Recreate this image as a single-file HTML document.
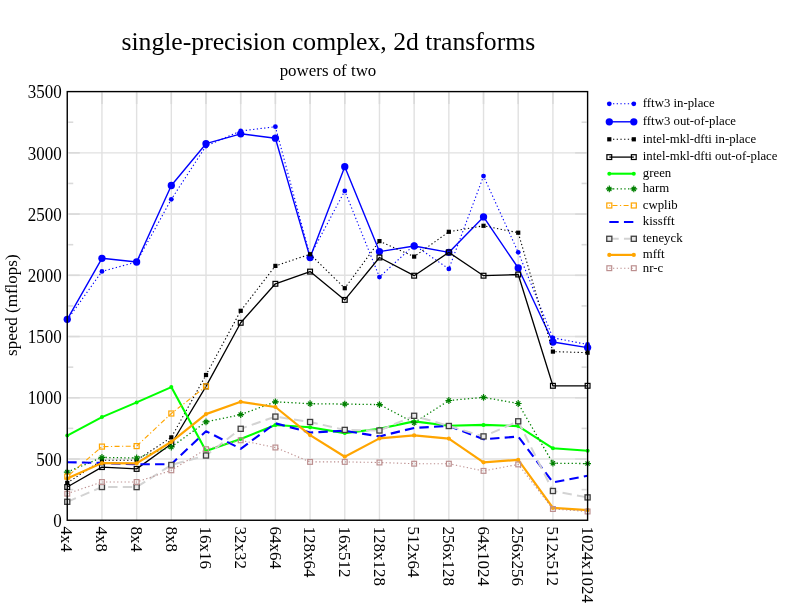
<!DOCTYPE html>
<html><head><meta charset="utf-8"><style>
html,body{margin:0;padding:0;background:#fff;width:792px;height:612px;overflow:hidden}
svg{display:block;will-change:transform;font-family:"Liberation Serif", serif}
</style></head><body><svg width="792" height="612" viewBox="0 0 792 612" fill="#000"><g stroke="#e1e1e1" stroke-width="1.4"><line x1="67.25" y1="459.01" x2="587.60" y2="459.01"/><line x1="67.25" y1="397.78" x2="587.60" y2="397.78"/><line x1="67.25" y1="336.54" x2="587.60" y2="336.54"/><line x1="67.25" y1="275.31" x2="587.60" y2="275.31"/><line x1="67.25" y1="214.07" x2="587.60" y2="214.07"/><line x1="67.25" y1="152.84" x2="587.60" y2="152.84"/><line x1="101.94" y1="91.60" x2="101.94" y2="520.25"/><line x1="136.63" y1="91.60" x2="136.63" y2="520.25"/><line x1="171.32" y1="91.60" x2="171.32" y2="520.25"/><line x1="206.01" y1="91.60" x2="206.01" y2="520.25"/><line x1="240.70" y1="91.60" x2="240.70" y2="520.25"/><line x1="275.39" y1="91.60" x2="275.39" y2="520.25"/><line x1="310.08" y1="91.60" x2="310.08" y2="520.25"/><line x1="344.77" y1="91.60" x2="344.77" y2="520.25"/><line x1="379.46" y1="91.60" x2="379.46" y2="520.25"/><line x1="414.15" y1="91.60" x2="414.15" y2="520.25"/><line x1="448.84" y1="91.60" x2="448.84" y2="520.25"/><line x1="483.53" y1="91.60" x2="483.53" y2="520.25"/><line x1="518.22" y1="91.60" x2="518.22" y2="520.25"/><line x1="552.91" y1="91.60" x2="552.91" y2="520.25"/></g><g stroke="#dadada" stroke-width="1.6"><line x1="68.25" y1="489.63" x2="73.25" y2="489.63"/><line x1="581.60" y1="489.63" x2="586.60" y2="489.63"/><line x1="68.25" y1="428.40" x2="73.25" y2="428.40"/><line x1="581.60" y1="428.40" x2="586.60" y2="428.40"/><line x1="68.25" y1="367.16" x2="73.25" y2="367.16"/><line x1="581.60" y1="367.16" x2="586.60" y2="367.16"/><line x1="68.25" y1="305.93" x2="73.25" y2="305.93"/><line x1="581.60" y1="305.93" x2="586.60" y2="305.93"/><line x1="68.25" y1="244.69" x2="73.25" y2="244.69"/><line x1="581.60" y1="244.69" x2="586.60" y2="244.69"/><line x1="68.25" y1="183.45" x2="73.25" y2="183.45"/><line x1="581.60" y1="183.45" x2="586.60" y2="183.45"/><line x1="68.25" y1="122.22" x2="73.25" y2="122.22"/><line x1="581.60" y1="122.22" x2="586.60" y2="122.22"/><line x1="68.85" y1="459.01" x2="79.75" y2="459.01"/><line x1="575.10" y1="459.01" x2="586.00" y2="459.01"/><line x1="68.85" y1="397.78" x2="79.75" y2="397.78"/><line x1="575.10" y1="397.78" x2="586.00" y2="397.78"/><line x1="68.85" y1="336.54" x2="79.75" y2="336.54"/><line x1="575.10" y1="336.54" x2="586.00" y2="336.54"/><line x1="68.85" y1="275.31" x2="79.75" y2="275.31"/><line x1="575.10" y1="275.31" x2="586.00" y2="275.31"/><line x1="68.85" y1="214.07" x2="79.75" y2="214.07"/><line x1="575.10" y1="214.07" x2="586.00" y2="214.07"/><line x1="68.85" y1="152.84" x2="79.75" y2="152.84"/><line x1="575.10" y1="152.84" x2="586.00" y2="152.84"/><line x1="101.94" y1="92.60" x2="101.94" y2="104.10"/><line x1="136.63" y1="92.60" x2="136.63" y2="104.10"/><line x1="171.32" y1="92.60" x2="171.32" y2="104.10"/><line x1="206.01" y1="92.60" x2="206.01" y2="104.10"/><line x1="240.70" y1="92.60" x2="240.70" y2="104.10"/><line x1="275.39" y1="92.60" x2="275.39" y2="104.10"/><line x1="310.08" y1="92.60" x2="310.08" y2="104.10"/><line x1="344.77" y1="92.60" x2="344.77" y2="104.10"/><line x1="379.46" y1="92.60" x2="379.46" y2="104.10"/><line x1="414.15" y1="92.60" x2="414.15" y2="104.10"/><line x1="448.84" y1="92.60" x2="448.84" y2="104.10"/><line x1="483.53" y1="92.60" x2="483.53" y2="104.10"/><line x1="518.22" y1="92.60" x2="518.22" y2="104.10"/><line x1="552.91" y1="92.60" x2="552.91" y2="104.10"/></g><polyline points="67.25,320.00 101.94,271.40 136.63,262.00 171.32,199.30 206.01,146.00 240.70,131.00 275.39,126.70 310.08,256.00 344.77,190.90 379.46,277.10 414.15,245.00 448.84,268.90 483.53,176.10 518.22,252.30 552.91,337.80 587.60,344.50" fill="none" stroke="#0000ff" stroke-width="1.10" stroke-dasharray="1.3 2.4" stroke-linejoin="round"/><circle cx="67.25" cy="320.00" r="2.40" fill="#0000ff"/><circle cx="101.94" cy="271.40" r="2.40" fill="#0000ff"/><circle cx="136.63" cy="262.00" r="2.40" fill="#0000ff"/><circle cx="171.32" cy="199.30" r="2.40" fill="#0000ff"/><circle cx="206.01" cy="146.00" r="2.40" fill="#0000ff"/><circle cx="240.70" cy="131.00" r="2.40" fill="#0000ff"/><circle cx="275.39" cy="126.70" r="2.40" fill="#0000ff"/><circle cx="310.08" cy="256.00" r="2.40" fill="#0000ff"/><circle cx="344.77" cy="190.90" r="2.40" fill="#0000ff"/><circle cx="379.46" cy="277.10" r="2.40" fill="#0000ff"/><circle cx="414.15" cy="245.00" r="2.40" fill="#0000ff"/><circle cx="448.84" cy="268.90" r="2.40" fill="#0000ff"/><circle cx="483.53" cy="176.10" r="2.40" fill="#0000ff"/><circle cx="518.22" cy="252.30" r="2.40" fill="#0000ff"/><circle cx="552.91" cy="337.80" r="2.40" fill="#0000ff"/><circle cx="587.60" cy="344.50" r="2.40" fill="#0000ff"/><polyline points="67.25,319.30 101.94,258.30 136.63,262.00 171.32,185.50 206.01,143.70 240.70,133.80 275.39,138.20 310.08,257.50 344.77,166.70 379.46,251.60 414.15,246.00 448.84,252.40 483.53,216.90 518.22,268.00 552.91,342.00 587.60,347.60" fill="none" stroke="#0000ff" stroke-width="1.40" stroke-linejoin="round"/><circle cx="67.25" cy="319.30" r="3.65" fill="#0000ff"/><circle cx="101.94" cy="258.30" r="3.65" fill="#0000ff"/><circle cx="136.63" cy="262.00" r="3.65" fill="#0000ff"/><circle cx="171.32" cy="185.50" r="3.65" fill="#0000ff"/><circle cx="206.01" cy="143.70" r="3.65" fill="#0000ff"/><circle cx="240.70" cy="133.80" r="3.65" fill="#0000ff"/><circle cx="275.39" cy="138.20" r="3.65" fill="#0000ff"/><circle cx="310.08" cy="257.50" r="3.65" fill="#0000ff"/><circle cx="344.77" cy="166.70" r="3.65" fill="#0000ff"/><circle cx="379.46" cy="251.60" r="3.65" fill="#0000ff"/><circle cx="414.15" cy="246.00" r="3.65" fill="#0000ff"/><circle cx="448.84" cy="252.40" r="3.65" fill="#0000ff"/><circle cx="483.53" cy="216.90" r="3.65" fill="#0000ff"/><circle cx="518.22" cy="268.00" r="3.65" fill="#0000ff"/><circle cx="552.91" cy="342.00" r="3.65" fill="#0000ff"/><circle cx="587.60" cy="347.60" r="3.65" fill="#0000ff"/><polyline points="67.25,482.90 101.94,460.30 136.63,460.30 171.32,437.40 206.01,375.00 240.70,310.80 275.39,265.90 310.08,254.20 344.77,288.20 379.46,241.10 414.15,256.60 448.84,231.80 483.53,225.80 518.22,232.70 552.91,351.60 587.60,352.70" fill="none" stroke="#000" stroke-width="1.10" stroke-dasharray="1.3 2.4" stroke-linejoin="round"/><rect x="65.15" y="480.80" width="4.20" height="4.20" fill="#000"/><rect x="99.84" y="458.20" width="4.20" height="4.20" fill="#000"/><rect x="134.53" y="458.20" width="4.20" height="4.20" fill="#000"/><rect x="169.22" y="435.30" width="4.20" height="4.20" fill="#000"/><rect x="203.91" y="372.90" width="4.20" height="4.20" fill="#000"/><rect x="238.60" y="308.70" width="4.20" height="4.20" fill="#000"/><rect x="273.29" y="263.80" width="4.20" height="4.20" fill="#000"/><rect x="307.98" y="252.10" width="4.20" height="4.20" fill="#000"/><rect x="342.67" y="286.10" width="4.20" height="4.20" fill="#000"/><rect x="377.36" y="239.00" width="4.20" height="4.20" fill="#000"/><rect x="412.05" y="254.50" width="4.20" height="4.20" fill="#000"/><rect x="446.74" y="229.70" width="4.20" height="4.20" fill="#000"/><rect x="481.43" y="223.70" width="4.20" height="4.20" fill="#000"/><rect x="516.12" y="230.60" width="4.20" height="4.20" fill="#000"/><rect x="550.81" y="349.50" width="4.20" height="4.20" fill="#000"/><rect x="585.50" y="350.60" width="4.20" height="4.20" fill="#000"/><polyline points="67.25,487.00 101.94,467.10 136.63,468.90 171.32,444.00 206.01,386.40 240.70,322.80 275.39,283.80 310.08,271.60 344.77,299.90 379.46,257.50 414.15,275.70 448.84,252.40 483.53,275.70 518.22,274.50 552.91,385.80 587.60,385.80" fill="none" stroke="#000" stroke-width="1.30" stroke-linejoin="round"/><rect x="64.85" y="484.60" width="4.80" height="4.80" fill="none" stroke="#000" stroke-width="1.20"/><rect x="99.54" y="464.70" width="4.80" height="4.80" fill="none" stroke="#000" stroke-width="1.20"/><rect x="134.23" y="466.50" width="4.80" height="4.80" fill="none" stroke="#000" stroke-width="1.20"/><rect x="168.92" y="441.60" width="4.80" height="4.80" fill="none" stroke="#000" stroke-width="1.20"/><rect x="203.61" y="384.00" width="4.80" height="4.80" fill="none" stroke="#000" stroke-width="1.20"/><rect x="238.30" y="320.40" width="4.80" height="4.80" fill="none" stroke="#000" stroke-width="1.20"/><rect x="272.99" y="281.40" width="4.80" height="4.80" fill="none" stroke="#000" stroke-width="1.20"/><rect x="307.68" y="269.20" width="4.80" height="4.80" fill="none" stroke="#000" stroke-width="1.20"/><rect x="342.37" y="297.50" width="4.80" height="4.80" fill="none" stroke="#000" stroke-width="1.20"/><rect x="377.06" y="255.10" width="4.80" height="4.80" fill="none" stroke="#000" stroke-width="1.20"/><rect x="411.75" y="273.30" width="4.80" height="4.80" fill="none" stroke="#000" stroke-width="1.20"/><rect x="446.44" y="250.00" width="4.80" height="4.80" fill="none" stroke="#000" stroke-width="1.20"/><rect x="481.13" y="273.30" width="4.80" height="4.80" fill="none" stroke="#000" stroke-width="1.20"/><rect x="515.82" y="272.10" width="4.80" height="4.80" fill="none" stroke="#000" stroke-width="1.20"/><rect x="550.51" y="383.40" width="4.80" height="4.80" fill="none" stroke="#000" stroke-width="1.20"/><rect x="585.20" y="383.40" width="4.80" height="4.80" fill="none" stroke="#000" stroke-width="1.20"/><polyline points="67.25,435.60 101.94,417.10 136.63,402.40 171.32,387.10 206.01,451.00 240.70,439.00 275.39,425.00 310.08,427.30 344.77,433.10 379.46,428.80 414.15,421.40 448.84,425.80 483.53,424.90 518.22,426.10 552.91,448.30 587.60,450.80" fill="none" stroke="#00ff00" stroke-width="2.10" stroke-linejoin="round"/><circle cx="67.25" cy="435.60" r="2.00" fill="#00ff00"/><circle cx="101.94" cy="417.10" r="2.00" fill="#00ff00"/><circle cx="136.63" cy="402.40" r="2.00" fill="#00ff00"/><circle cx="171.32" cy="387.10" r="2.00" fill="#00ff00"/><circle cx="206.01" cy="451.00" r="2.00" fill="#00ff00"/><circle cx="240.70" cy="439.00" r="2.00" fill="#00ff00"/><circle cx="275.39" cy="425.00" r="2.00" fill="#00ff00"/><circle cx="310.08" cy="427.30" r="2.00" fill="#00ff00"/><circle cx="344.77" cy="433.10" r="2.00" fill="#00ff00"/><circle cx="379.46" cy="428.80" r="2.00" fill="#00ff00"/><circle cx="414.15" cy="421.40" r="2.00" fill="#00ff00"/><circle cx="448.84" cy="425.80" r="2.00" fill="#00ff00"/><circle cx="483.53" cy="424.90" r="2.00" fill="#00ff00"/><circle cx="518.22" cy="426.10" r="2.00" fill="#00ff00"/><circle cx="552.91" cy="448.30" r="2.00" fill="#00ff00"/><circle cx="587.60" cy="450.80" r="2.00" fill="#00ff00"/><polyline points="67.25,472.10 101.94,457.40 136.63,458.00 171.32,447.00 206.01,421.90 240.70,414.60 275.39,401.80 310.08,403.70 344.77,404.10 379.46,404.60 414.15,422.70 448.84,400.50 483.53,397.40 518.22,403.50 552.91,463.20 587.60,463.60" fill="none" stroke="#008000" stroke-width="1.30" stroke-dasharray="1.3 2.45" stroke-linejoin="round"/><path d="M67.25 468.70v6.80M63.85 472.10h6.80M65.15 470.00l4.20 4.20M65.15 474.20l4.20 -4.20" stroke="#008000" stroke-width="1.15" fill="none"/><path d="M101.94 454.00v6.80M98.54 457.40h6.80M99.84 455.30l4.20 4.20M99.84 459.50l4.20 -4.20" stroke="#008000" stroke-width="1.15" fill="none"/><path d="M136.63 454.60v6.80M133.23 458.00h6.80M134.53 455.90l4.20 4.20M134.53 460.10l4.20 -4.20" stroke="#008000" stroke-width="1.15" fill="none"/><path d="M171.32 443.60v6.80M167.92 447.00h6.80M169.22 444.90l4.20 4.20M169.22 449.10l4.20 -4.20" stroke="#008000" stroke-width="1.15" fill="none"/><path d="M206.01 418.50v6.80M202.61 421.90h6.80M203.91 419.80l4.20 4.20M203.91 424.00l4.20 -4.20" stroke="#008000" stroke-width="1.15" fill="none"/><path d="M240.70 411.20v6.80M237.30 414.60h6.80M238.60 412.50l4.20 4.20M238.60 416.70l4.20 -4.20" stroke="#008000" stroke-width="1.15" fill="none"/><path d="M275.39 398.40v6.80M271.99 401.80h6.80M273.29 399.70l4.20 4.20M273.29 403.90l4.20 -4.20" stroke="#008000" stroke-width="1.15" fill="none"/><path d="M310.08 400.30v6.80M306.68 403.70h6.80M307.98 401.60l4.20 4.20M307.98 405.80l4.20 -4.20" stroke="#008000" stroke-width="1.15" fill="none"/><path d="M344.77 400.70v6.80M341.37 404.10h6.80M342.67 402.00l4.20 4.20M342.67 406.20l4.20 -4.20" stroke="#008000" stroke-width="1.15" fill="none"/><path d="M379.46 401.20v6.80M376.06 404.60h6.80M377.36 402.50l4.20 4.20M377.36 406.70l4.20 -4.20" stroke="#008000" stroke-width="1.15" fill="none"/><path d="M414.15 419.30v6.80M410.75 422.70h6.80M412.05 420.60l4.20 4.20M412.05 424.80l4.20 -4.20" stroke="#008000" stroke-width="1.15" fill="none"/><path d="M448.84 397.10v6.80M445.44 400.50h6.80M446.74 398.40l4.20 4.20M446.74 402.60l4.20 -4.20" stroke="#008000" stroke-width="1.15" fill="none"/><path d="M483.53 394.00v6.80M480.13 397.40h6.80M481.43 395.30l4.20 4.20M481.43 399.50l4.20 -4.20" stroke="#008000" stroke-width="1.15" fill="none"/><path d="M518.22 400.10v6.80M514.82 403.50h6.80M516.12 401.40l4.20 4.20M516.12 405.60l4.20 -4.20" stroke="#008000" stroke-width="1.15" fill="none"/><path d="M552.91 459.80v6.80M549.51 463.20h6.80M550.81 461.10l4.20 4.20M550.81 465.30l4.20 -4.20" stroke="#008000" stroke-width="1.15" fill="none"/><path d="M587.60 460.20v6.80M584.20 463.60h6.80M585.50 461.50l4.20 4.20M585.50 465.70l4.20 -4.20" stroke="#008000" stroke-width="1.15" fill="none"/><polyline points="67.25,476.60 101.94,446.60 136.63,446.10 171.32,413.50 206.01,386.40" fill="none" stroke="#ffa500" stroke-width="1.10" stroke-dasharray="5 2.45 1.2 2.45" stroke-dashoffset="8.1" stroke-linejoin="round"/><rect x="64.75" y="474.10" width="5.00" height="5.00" fill="none" stroke="#ffa500" stroke-width="1.20"/><rect x="99.44" y="444.10" width="5.00" height="5.00" fill="none" stroke="#ffa500" stroke-width="1.20"/><rect x="134.13" y="443.60" width="5.00" height="5.00" fill="none" stroke="#ffa500" stroke-width="1.20"/><rect x="168.82" y="411.00" width="5.00" height="5.00" fill="none" stroke="#ffa500" stroke-width="1.20"/><rect x="203.51" y="383.90" width="5.00" height="5.00" fill="none" stroke="#ffa500" stroke-width="1.20"/><polyline points="67.25,462.20 101.94,463.00 136.63,464.30 171.32,464.20 206.01,431.20 240.70,448.80 275.39,423.30 310.08,432.50 344.77,430.80 379.46,436.40 414.15,427.90 448.84,426.00 483.53,439.20 518.22,436.60 552.91,482.40 587.60,475.80" fill="none" stroke="#0000ff" stroke-width="2.10" stroke-dasharray="9.4 5.24" stroke-linejoin="round"/><polyline points="67.25,501.80 101.94,487.00 136.63,487.10 171.32,465.00 206.01,455.50 240.70,428.80 275.39,416.60 310.08,422.00 344.77,429.90 379.46,430.50 414.15,415.80 448.84,426.00 483.53,436.40 518.22,421.30 552.91,491.00 587.60,497.40" fill="none" stroke="#d3d3d3" stroke-width="2.00" stroke-dasharray="9.4 5.24" stroke-linejoin="round"/><rect x="64.70" y="499.25" width="5.10" height="5.10" fill="#e8e8e8" stroke="#404040" stroke-width="1.30"/><rect x="99.39" y="484.45" width="5.10" height="5.10" fill="#e8e8e8" stroke="#404040" stroke-width="1.30"/><rect x="134.08" y="484.55" width="5.10" height="5.10" fill="#e8e8e8" stroke="#404040" stroke-width="1.30"/><rect x="168.77" y="462.45" width="5.10" height="5.10" fill="#e8e8e8" stroke="#404040" stroke-width="1.30"/><rect x="203.46" y="452.95" width="5.10" height="5.10" fill="#e8e8e8" stroke="#404040" stroke-width="1.30"/><rect x="238.15" y="426.25" width="5.10" height="5.10" fill="#e8e8e8" stroke="#404040" stroke-width="1.30"/><rect x="272.84" y="414.05" width="5.10" height="5.10" fill="#e8e8e8" stroke="#404040" stroke-width="1.30"/><rect x="307.53" y="419.45" width="5.10" height="5.10" fill="#e8e8e8" stroke="#404040" stroke-width="1.30"/><rect x="342.22" y="427.35" width="5.10" height="5.10" fill="#e8e8e8" stroke="#404040" stroke-width="1.30"/><rect x="376.91" y="427.95" width="5.10" height="5.10" fill="#e8e8e8" stroke="#404040" stroke-width="1.30"/><rect x="411.60" y="413.25" width="5.10" height="5.10" fill="#e8e8e8" stroke="#404040" stroke-width="1.30"/><rect x="446.29" y="423.45" width="5.10" height="5.10" fill="#e8e8e8" stroke="#404040" stroke-width="1.30"/><rect x="480.98" y="433.85" width="5.10" height="5.10" fill="#e8e8e8" stroke="#404040" stroke-width="1.30"/><rect x="515.67" y="418.75" width="5.10" height="5.10" fill="#e8e8e8" stroke="#404040" stroke-width="1.30"/><rect x="550.36" y="488.45" width="5.10" height="5.10" fill="#e8e8e8" stroke="#404040" stroke-width="1.30"/><rect x="585.05" y="494.85" width="5.10" height="5.10" fill="#e8e8e8" stroke="#404040" stroke-width="1.30"/><polyline points="67.25,478.40 101.94,463.10 136.63,463.40 171.32,441.80 206.01,414.10 240.70,401.80 275.39,407.00 310.08,435.10 344.77,456.70 379.46,438.40 414.15,435.40 448.84,438.60 483.53,462.30 518.22,459.90 552.91,507.80 587.60,510.10" fill="none" stroke="#ffa500" stroke-width="2.20" stroke-linejoin="round"/><circle cx="67.25" cy="478.40" r="2.10" fill="#ffa500"/><circle cx="101.94" cy="463.10" r="2.10" fill="#ffa500"/><circle cx="136.63" cy="463.40" r="2.10" fill="#ffa500"/><circle cx="171.32" cy="441.80" r="2.10" fill="#ffa500"/><circle cx="206.01" cy="414.10" r="2.10" fill="#ffa500"/><circle cx="240.70" cy="401.80" r="2.10" fill="#ffa500"/><circle cx="275.39" cy="407.00" r="2.10" fill="#ffa500"/><circle cx="310.08" cy="435.10" r="2.10" fill="#ffa500"/><circle cx="344.77" cy="456.70" r="2.10" fill="#ffa500"/><circle cx="379.46" cy="438.40" r="2.10" fill="#ffa500"/><circle cx="414.15" cy="435.40" r="2.10" fill="#ffa500"/><circle cx="448.84" cy="438.60" r="2.10" fill="#ffa500"/><circle cx="483.53" cy="462.30" r="2.10" fill="#ffa500"/><circle cx="518.22" cy="459.90" r="2.10" fill="#ffa500"/><circle cx="552.91" cy="507.80" r="2.10" fill="#ffa500"/><circle cx="587.60" cy="510.10" r="2.10" fill="#ffa500"/><polyline points="67.25,493.70 101.94,482.00 136.63,482.00 171.32,470.30 206.01,449.20 240.70,440.30 275.39,447.50 310.08,461.90 344.77,461.90 379.46,462.50 414.15,463.70 448.84,463.70 483.53,470.90 518.22,464.40 552.91,509.00 587.60,511.50" fill="none" stroke="#bc8f8f" stroke-width="1.10" stroke-dasharray="1.3 2.4" stroke-linejoin="round"/><rect x="64.85" y="491.30" width="4.80" height="4.80" fill="none" stroke="#bc8f8f" stroke-width="1.20"/><rect x="99.54" y="479.60" width="4.80" height="4.80" fill="none" stroke="#bc8f8f" stroke-width="1.20"/><rect x="134.23" y="479.60" width="4.80" height="4.80" fill="none" stroke="#bc8f8f" stroke-width="1.20"/><rect x="168.92" y="467.90" width="4.80" height="4.80" fill="none" stroke="#bc8f8f" stroke-width="1.20"/><rect x="203.61" y="446.80" width="4.80" height="4.80" fill="none" stroke="#bc8f8f" stroke-width="1.20"/><rect x="238.30" y="437.90" width="4.80" height="4.80" fill="none" stroke="#bc8f8f" stroke-width="1.20"/><rect x="272.99" y="445.10" width="4.80" height="4.80" fill="none" stroke="#bc8f8f" stroke-width="1.20"/><rect x="307.68" y="459.50" width="4.80" height="4.80" fill="none" stroke="#bc8f8f" stroke-width="1.20"/><rect x="342.37" y="459.50" width="4.80" height="4.80" fill="none" stroke="#bc8f8f" stroke-width="1.20"/><rect x="377.06" y="460.10" width="4.80" height="4.80" fill="none" stroke="#bc8f8f" stroke-width="1.20"/><rect x="411.75" y="461.30" width="4.80" height="4.80" fill="none" stroke="#bc8f8f" stroke-width="1.20"/><rect x="446.44" y="461.30" width="4.80" height="4.80" fill="none" stroke="#bc8f8f" stroke-width="1.20"/><rect x="481.13" y="468.50" width="4.80" height="4.80" fill="none" stroke="#bc8f8f" stroke-width="1.20"/><rect x="515.82" y="462.00" width="4.80" height="4.80" fill="none" stroke="#bc8f8f" stroke-width="1.20"/><rect x="550.51" y="506.60" width="4.80" height="4.80" fill="none" stroke="#bc8f8f" stroke-width="1.20"/><rect x="585.20" y="509.10" width="4.80" height="4.80" fill="none" stroke="#bc8f8f" stroke-width="1.20"/><rect x="67.25" y="91.60" width="520.35" height="428.65" fill="none" stroke="#000" stroke-width="1.4"/><text transform="translate(61.8,526.95) scale(1,1.05)" text-anchor="end" font-size="17">0</text><text transform="translate(61.8,465.71) scale(1,1.05)" text-anchor="end" font-size="17">500</text><text transform="translate(61.8,404.48) scale(1,1.05)" text-anchor="end" font-size="17">1000</text><text transform="translate(61.8,343.24) scale(1,1.05)" text-anchor="end" font-size="17">1500</text><text transform="translate(61.8,282.01) scale(1,1.05)" text-anchor="end" font-size="17">2000</text><text transform="translate(61.8,220.77) scale(1,1.05)" text-anchor="end" font-size="17">2500</text><text transform="translate(61.8,159.54) scale(1,1.05)" text-anchor="end" font-size="17">3000</text><text transform="translate(61.8,98.30) scale(1,1.05)" text-anchor="end" font-size="17">3500</text><text transform="translate(61.45,526.6) rotate(90) scale(1,1.02)" font-size="17">4x4</text><text transform="translate(96.14,526.6) rotate(90) scale(1,1.02)" font-size="17">4x8</text><text transform="translate(130.83,526.6) rotate(90) scale(1,1.02)" font-size="17">8x4</text><text transform="translate(165.52,526.6) rotate(90) scale(1,1.02)" font-size="17">8x8</text><text transform="translate(200.21,526.6) rotate(90) scale(1,1.02)" font-size="17">16x16</text><text transform="translate(234.90,526.6) rotate(90) scale(1,1.02)" font-size="17">32x32</text><text transform="translate(269.59,526.6) rotate(90) scale(1,1.02)" font-size="17">64x64</text><text transform="translate(304.28,526.6) rotate(90) scale(1,1.02)" font-size="17">128x64</text><text transform="translate(338.97,526.6) rotate(90) scale(1,1.02)" font-size="17">16x512</text><text transform="translate(373.66,526.6) rotate(90) scale(1,1.02)" font-size="17">128x128</text><text transform="translate(408.35,526.6) rotate(90) scale(1,1.02)" font-size="17">512x64</text><text transform="translate(443.04,526.6) rotate(90) scale(1,1.02)" font-size="17">256x128</text><text transform="translate(477.73,526.6) rotate(90) scale(1,1.02)" font-size="17">64x1024</text><text transform="translate(512.42,526.6) rotate(90) scale(1,1.02)" font-size="17">256x256</text><text transform="translate(547.11,526.6) rotate(90) scale(1,1.02)" font-size="17">512x512</text><text transform="translate(581.80,526.6) rotate(90) scale(1,1.02)" font-size="17">1024x1024</text><text x="328.3" y="49.7" text-anchor="middle" font-size="25.7">single-precision complex, 2d transforms</text><text x="328" y="75.5" text-anchor="middle" font-size="16.9">powers of two</text><text transform="translate(17.2,305.2) rotate(-90)" text-anchor="middle" font-size="17">speed (mflops)</text><line x1="609.30" y1="103.80" x2="633.80" y2="103.80" stroke="#0000ff" stroke-width="1.10" stroke-dasharray="1.3 2.4"/><circle cx="609.30" cy="103.80" r="2.40" fill="#0000ff"/><circle cx="633.80" cy="103.80" r="2.40" fill="#0000ff"/><text x="642.8" y="107.10" font-size="12.8">fftw3 in-place</text><line x1="609.30" y1="121.80" x2="633.80" y2="121.80" stroke="#0000ff" stroke-width="1.40"/><circle cx="609.30" cy="121.80" r="3.65" fill="#0000ff"/><circle cx="633.80" cy="121.80" r="3.65" fill="#0000ff"/><text x="642.8" y="125.10" font-size="12.8">fftw3 out-of-place</text><line x1="609.30" y1="139.30" x2="633.80" y2="139.30" stroke="#000" stroke-width="1.10" stroke-dasharray="1.3 2.4"/><rect x="607.20" y="137.20" width="4.20" height="4.20" fill="#000"/><rect x="631.70" y="137.20" width="4.20" height="4.20" fill="#000"/><text x="642.8" y="142.60" font-size="12.8">intel-mkl-dfti in-place</text><line x1="609.30" y1="157.10" x2="633.80" y2="157.10" stroke="#000" stroke-width="1.30"/><rect x="606.90" y="154.70" width="4.80" height="4.80" fill="none" stroke="#000" stroke-width="1.20"/><rect x="631.40" y="154.70" width="4.80" height="4.80" fill="none" stroke="#000" stroke-width="1.20"/><text x="642.8" y="160.40" font-size="12.8">intel-mkl-dfti out-of-place</text><line x1="609.30" y1="173.70" x2="633.80" y2="173.70" stroke="#00ff00" stroke-width="2.10"/><circle cx="609.30" cy="173.70" r="2.00" fill="#00ff00"/><circle cx="633.80" cy="173.70" r="2.00" fill="#00ff00"/><text x="642.8" y="177.00" font-size="12.8">green</text><line x1="609.30" y1="188.90" x2="633.80" y2="188.90" stroke="#008000" stroke-width="1.30" stroke-dasharray="1.3 2.45"/><path d="M609.30 185.50v6.80M605.90 188.90h6.80M607.20 186.80l4.20 4.20M607.20 191.00l4.20 -4.20" stroke="#008000" stroke-width="1.15" fill="none"/><path d="M633.80 185.50v6.80M630.40 188.90h6.80M631.70 186.80l4.20 4.20M631.70 191.00l4.20 -4.20" stroke="#008000" stroke-width="1.15" fill="none"/><text x="642.8" y="192.20" font-size="12.8">harm</text><line x1="609.30" y1="205.50" x2="633.80" y2="205.50" stroke="#ffa500" stroke-width="1.10" stroke-dasharray="5 2.45 1.2 2.45" stroke-dashoffset="7.9"/><rect x="606.80" y="203.00" width="5.00" height="5.00" fill="none" stroke="#ffa500" stroke-width="1.20"/><rect x="631.30" y="203.00" width="5.00" height="5.00" fill="none" stroke="#ffa500" stroke-width="1.20"/><text x="642.8" y="208.80" font-size="12.8">cwplib</text><line x1="609.30" y1="222.00" x2="633.80" y2="222.00" stroke="#0000ff" stroke-width="2.10" stroke-dasharray="9.4 5.24"/><text x="642.8" y="225.30" font-size="12.8">kissfft</text><line x1="609.30" y1="238.80" x2="633.80" y2="238.80" stroke="#d3d3d3" stroke-width="2.00" stroke-dasharray="9.4 5.24"/><rect x="606.75" y="236.25" width="5.10" height="5.10" fill="#e8e8e8" stroke="#404040" stroke-width="1.30"/><rect x="631.25" y="236.25" width="5.10" height="5.10" fill="#e8e8e8" stroke="#404040" stroke-width="1.30"/><text x="642.8" y="242.10" font-size="12.8">teneyck</text><line x1="609.30" y1="254.90" x2="633.80" y2="254.90" stroke="#ffa500" stroke-width="2.20"/><circle cx="609.30" cy="254.90" r="2.10" fill="#ffa500"/><circle cx="633.80" cy="254.90" r="2.10" fill="#ffa500"/><text x="642.8" y="258.20" font-size="12.8">mfft</text><line x1="609.30" y1="268.20" x2="633.80" y2="268.20" stroke="#bc8f8f" stroke-width="1.10" stroke-dasharray="1.3 2.4"/><rect x="606.90" y="265.80" width="4.80" height="4.80" fill="none" stroke="#bc8f8f" stroke-width="1.20"/><rect x="631.40" y="265.80" width="4.80" height="4.80" fill="none" stroke="#bc8f8f" stroke-width="1.20"/><text x="642.8" y="271.50" font-size="12.8">nr-c</text></svg></body></html>
